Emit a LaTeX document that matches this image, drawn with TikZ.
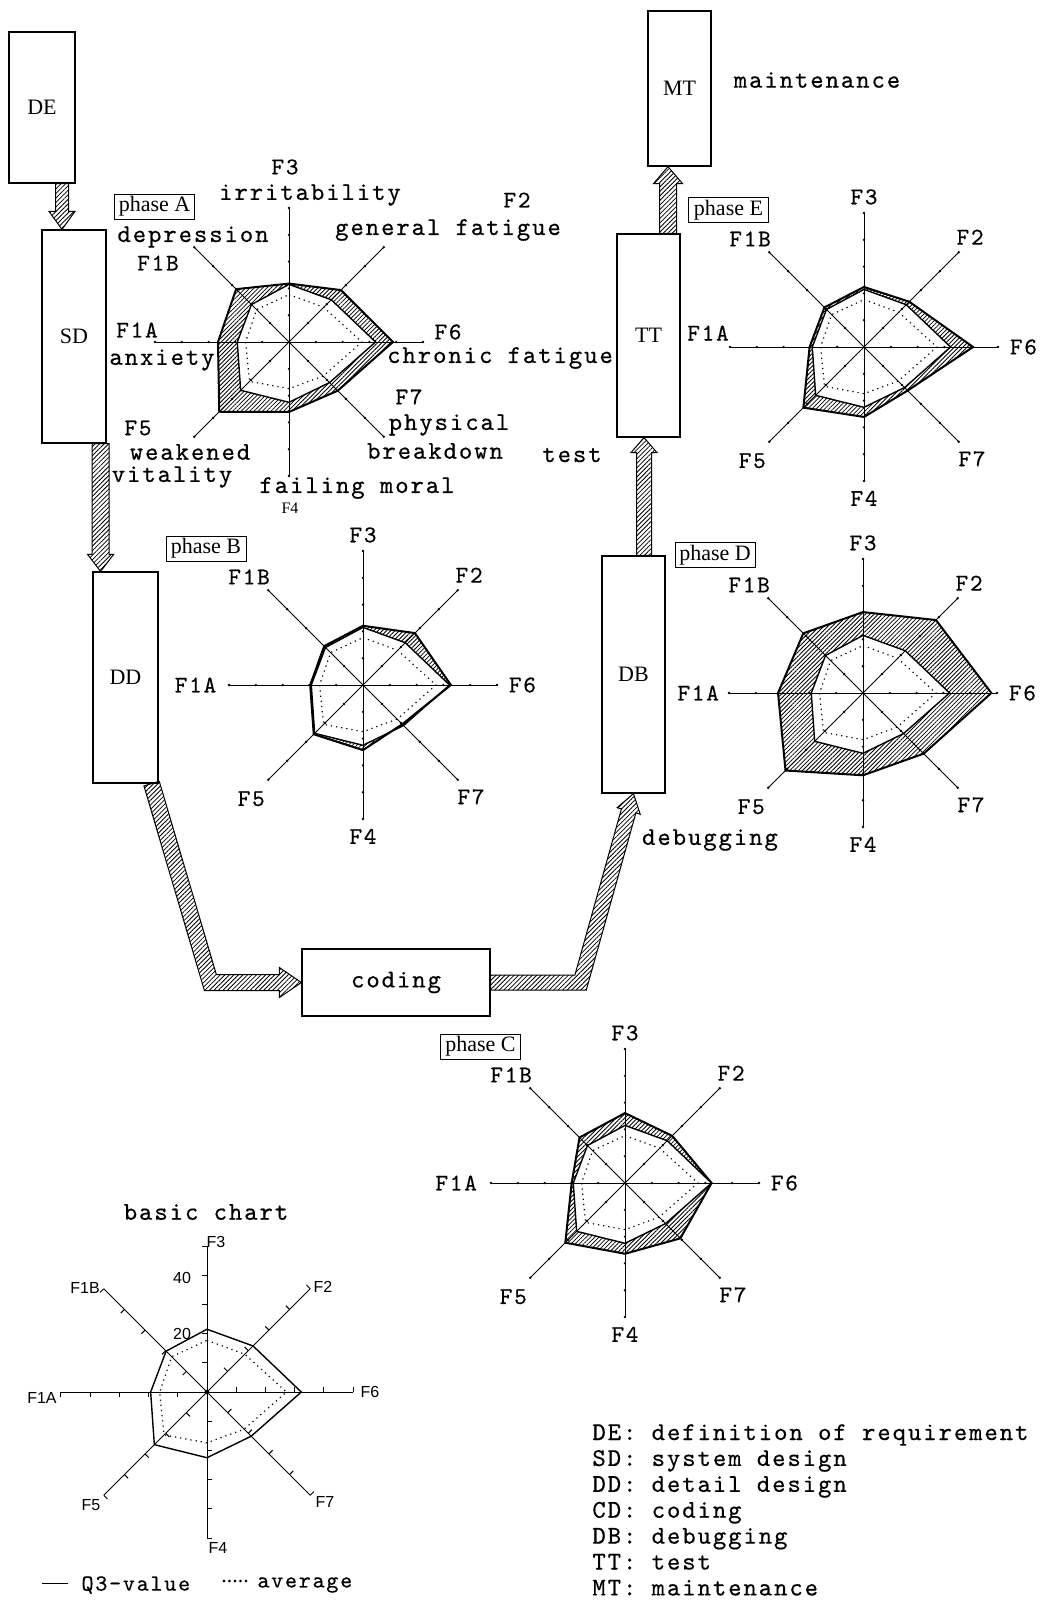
\documentclass[tikz,border=0pt]{standalone}
\usepackage{fontspec}
\setmainfont{Liberation Serif}
\newfontfamily\typew[LetterSpace=7.5, FakeBold=0.45]{lmmono10-regular.otf}
\newfontfamily\plotsans{Liberation Sans}
\usetikzlibrary{calc, patterns.meta}

% radar polygon: F3, F2, F6, F7, F4, F5, F1A, F1B
\newcommand\rpoly[8]{(90:#1) -- (45:#2) -- (0:#3) -- (-45:#4) -- (-90:#5) -- (-135:#6) -- (180:#7) -- (135:#8) -- cycle}
\newcommand\qthree{\rpoly{21.5}{22.3}{32.3}{21.4}{22.5}{25.5}{19.3}{19.8}}
\newcommand\avgpoly{\rpoly{17.7}{18.3}{27.2}{18}{17.4}{20.8}{16.2}{17.1}}

\newcommand\phaseaxes{%
  \foreach \a in {90,45,0,-45,-90,-135,180,135} {
    \draw[axis] (0,0) -- (\a:50);
    \foreach \t in {10,20,30,40,50} \fill (\a:\t) circle (0.65pt);
  }}

\newcommand\phasechart[3]{%
  \begin{scope}[chart={#2}]
    \phaseaxes
    \fill[band] \rpoly#3 \qthree;
    \draw[qline] \qthree;
    \draw[phline] \rpoly#3;
    \draw[avgline] \avgpoly;
  \end{scope}}

% F labels round a phase chart
\newcommand\flabels[3]{%
  \begin{scope}[chart={#2}]
    \node[flab] (#1F3) at (90:56) {F3};
    \node[flab] (#1F2) at (46:57) {F2};
    \node[flab] (#1F6) at (0:59.5) {F6};
    \node[flab] (#1F7) at (-46:58) {F7};
    \node[flab] (#1F4) at (-90:56.5) {F4};
    \node[flab] (#1F5) at (-134.5:59.5) {F5};
    \node[flab] (#1F1A) at (#3) {F1A};
    \node[flab] (#1F1B) at (136.5:58.6) {F1B};
  \end{scope}}

% straight hatched arrow: start, tip, shaft half width, head half width, head length
\newcommand\fatarrow[5]{%
  \coordinate (fab) at ($(#2)!#5!(#1)$);
  \path[hatch] ($(#1)!#3!90:(#2)$) -- ($(fab)!#3!90:(#2)$) -- ($(fab)!#4!90:(#2)$) -- (#2)
    -- ($(fab)!#4!-90:(#2)$) -- ($(fab)!#3!-90:(#2)$) -- ($(#1)!#3!-90:(#2)$) -- cycle;}

% bent hatched arrow: start, bend, tip, shaft half width, head half width, head length
\newcommand\fatbent[6]{%
  \coordinate (fbb) at ($(#3)!#6!(#2)$);
  \coordinate (fbla) at ($(#1)!#4!90:(#2)$);
  \coordinate (fblb) at ($(#2)!#4!-90:(#1)$);
  \coordinate (fblc) at ($(#2)!#4!90:(#3)$);
  \coordinate (fbld) at ($(fbb)!#4!90:(#3)$);
  \coordinate (fbra) at ($(#1)!#4!-90:(#2)$);
  \coordinate (fbrb) at ($(#2)!#4!90:(#1)$);
  \coordinate (fbrc) at ($(#2)!#4!-90:(#3)$);
  \coordinate (fbrd) at ($(fbb)!#4!-90:(#3)$);
  \path[hatch] (fbla) -- (intersection of fbla--fblb and fblc--fbld) -- (fbld)
    -- ($(fbb)!#5!90:(#3)$) -- (#3) -- ($(fbb)!#5!-90:(#3)$) -- (fbrd)
    -- (intersection of fbra--fbrb and fbrc--fbrd) -- (fbra) -- cycle;}

\begin{document}
\begin{tikzpicture}[x=0.5pt, y=-0.5pt,
    flowbox/.style={draw, line width=0.6pt, fill=white, inner sep=0pt, font=\fontsize{11}{12}\selectfont},
    phasebox/.style={draw, line width=0.4pt, inner sep=1pt, minimum width=40pt, minimum height=12.5pt, font=\fontsize{11}{12}\selectfont},
    wordlab/.style={font=\typew\fontsize{12.75}{13}\selectfont, inner sep=0pt},
    flab/.style={font=\typew\fontsize{12}{13}\selectfont, inner sep=0pt},
    slab/.style={font=\plotsans\fontsize{8}{9}\selectfont, inner sep=0pt},
    hatch/.style={draw, line width=0.5pt, pattern={Lines[angle=45, distance=1.6pt, line width=0.4pt]}},
    band/.style={pattern={Lines[angle=45, distance=1.5pt, line width=0.4pt]}, even odd rule},
    chart/.style={shift={#1}, x=1.34pt, y=1.34pt},
    axis/.style={line width=0.5pt},
    qline/.style={line width=0.7pt},
    phline/.style={line width=1pt},
    avgline/.style={line width=0.6pt, dotted}]
  \fill[white] (0,0) rectangle (1048,1607);
  \useasboundingbox (0,0) rectangle (1048,1607);

  % process boxes
  \node[flowbox, minimum width=33pt, minimum height=75.5pt] (DE) at (42,107.5) {DE};
  \node[flowbox, minimum width=32pt, minimum height=106.5pt] (SD) at (74,336.5) {SD};
  \node[flowbox, minimum width=32.5pt, minimum height=105.5pt] (DD) at (125.5,677.5) {DD};
  \node[flowbox, minimum width=94pt, minimum height=33.5pt, font=\typew\fontsize{12.75}{13}\selectfont] (coding) at (396,982.5) {coding};
  \node[flowbox, minimum width=31.5pt, minimum height=118.5pt] (DB) at (633.5,674.5) {DB};
  \node[flowbox, minimum width=31.5pt, minimum height=101.5pt] (TT) at (648.5,335.5) {TT};
  \node[flowbox, minimum width=31.5pt, minimum height=77.5pt] (MT) at (679.5,88.5) {MT};

  % hatched arrows
  \coordinate (a1s) at ($(DE.south)+(20,0)$);
  \coordinate (a1t) at (a1s |- SD.north);
  \fatarrow{a1s}{a1t}{3.25pt}{6.5pt}{9pt}
  \coordinate (a2s) at ($(SD.south east)+(-6,0)$);
  \coordinate (a2t) at (a2s |- DD.north);
  \fatarrow{a2s}{a2t}{4.25pt}{6.5pt}{8.5pt}
  \coordinate (a3s) at ($(DD.south east)+(-7,0)$);
  \coordinate (a3b) at ($(coding.west)+(-91,0)$);
  \fatbent{a3s}{a3b}{coding.west}{4pt}{7.5pt}{11pt}
  \coordinate (a4s) at (coding.east);
  \coordinate (a4b) at ($(coding.east)+(90,0)$);
  \fatbent{a4s}{a4b}{DB.south}{3.75pt}{6pt}{9pt}
  \coordinate (a5s) at ($(DB.north)+(10.5,0)$);
  \coordinate (a5t) at (a5s |- TT.south);
  \fatarrow{a5s}{a5t}{3.75pt}{6.5pt}{7.5pt}
  \coordinate (a6s) at ($(TT.north)+(19.5,0)$);
  \coordinate (a6t) at (a6s |- MT.south);
  \fatarrow{a6s}{a6t}{4.25pt}{7.25pt}{8.5pt}

  \node[wordlab] (lmt) at (817,80) {maintenance};
  \node[wordlab] (ltt) at (572,455) {test};
  \node[wordlab] (ldb) at (710,840) {debugging};

  % phase charts
  \phasechart{A}{(289,342)}{{21.8}{27.4}{38.8}{25.7}{26.1}{36.8}{26.5}{27.9}}
  \phasechart{B}{(363,685)}{{22.1}{27.4}{32.8}{20.7}{24.3}{26.0}{19.7}{20.5}}
  \phasechart{C}{(625,1183)}{{26.1}{24.9}{32.3}{29.2}{26.4}{31.5}{19.9}{24.0}}
  \phasechart{D}{(863,693)}{{30.2}{38.5}{47.9}{32.0}{30.7}{40.9}{31.7}{31.5}}
  \phasechart{E}{(864,347)}{{22.4}{23.9}{40.7}{23.0}{26.1}{32.0}{20.3}{20.9}}

  \node[phasebox] (pA) at (154.5,206.5) {phase A};
  \node[phasebox] (pB) at (206,548.5) {phase B};
  \node[phasebox] (pC) at (480.5,1046.5) {phase C};
  \node[phasebox] (pD) at (715,555) {phase D};
  \node[phasebox] (pE) at (728.5,210) {phase E};

  % phase A labels
  \node[flab] (aF3) at (285,167) {F3};
  \node[wordlab] (airr) at (310,195) {irritability};
  \node[flab] (aF2) at (517,200) {F2};
  \node[wordlab] (agen) at (448,230) {general fatigue};
  \node[wordlab] (adep) at (193,237) {depression};
  \node[flab] (aF1B) at (158,263) {F1B};
  \node[flab] (aF1A) at (137,330) {F1A};
  \node[wordlab] (aanx) at (162,360) {anxiety};
  \node[flab] (aF6) at (448,332) {F6};
  \node[wordlab] (achr) at (500,358) {chronic fatigue};
  \node[flab] (aF7) at (409,397) {F7};
  \node[wordlab] (aphy) at (449,425) {physical};
  \node[wordlab] (abrk) at (435,451) {breakdown};
  \node[flab] (aF5) at (138,428) {F5};
  \node[wordlab] (awea) at (190,452) {weakened};
  \node[wordlab] (avit) at (172,477) {vitality};
  \node[wordlab] (afai) at (357,488) {failing moral};
  \node[font=\fontsize{8}{9}\selectfont, inner sep=0pt] (aF4) at (290,508) {F4};

  \flabels{b}{(363,685)}{180:62.5}
  \flabels{c}{(625,1183)}{180:63}
  \flabels{d}{(863,693)}{180:61.5}
  \flabels{e}{(864,347)}{-58.2,5.2}

  % basic chart
  \node[wordlab] (basic) at (206,1212) {basic chart};
  \begin{scope}[chart={(207,1392)}, x=1.46pt, y=1.46pt]
    \foreach \a in {90,45,0,-45,-90,-135,180,135} {
      \draw[axis] (0,0) -- (\a:50);
      \foreach \t in {10,20,30,40,50} \draw[axis] (\a:\t) -- ++(\a+90:1.8);
    }
    \draw[qline] \qthree;
    \draw[avgline] \avgpoly;
    \fill (0,0) circle (1.2pt);
  \end{scope}
  \node[slab] (bF3) at (216,1242) {F3};
  \node[slab] (bF2) at (323,1287) {F2};
  \node[slab] (bF6) at (370,1392) {F6};
  \node[slab] (bF7) at (325,1502) {F7};
  \node[slab] (bF4) at (218,1548) {F4};
  \node[slab] (bF5) at (91,1505) {F5};
  \node[slab] (bF1A) at (42,1398) {F1A};
  \node[slab] (bF1B) at (85,1288) {F1B};
  \node[slab] (b40) at (182,1278) {40};
  \node[slab] (b20) at (182,1334) {20};

  % legend
  \node[flab, anchor=west, font=\typew\fontsize{11.5}{12}\selectfont] (lgq) at (42,1585) {\rule[0.28em]{1.1em}{0.5pt} Q3-value};
  \node[inner sep=0pt, font=\fontsize{11}{12}\selectfont] (lgdots) at (235,1581) {.....};
  \node[flab, anchor=west, font=\typew\fontsize{11.5}{12}\selectfont] (lgavg) at (257,1585) {average};
  \foreach \t [count=\i from 0] in {DE: definition of requirement, SD: system design,
      DD: detail design, CD: coding, DB: debugging, TT: test, MT: maintenance}
    \node[wordlab, anchor=base west] (key\i) at (592,1440+25.9*\i) {\t};
\end{tikzpicture}
\end{document}
